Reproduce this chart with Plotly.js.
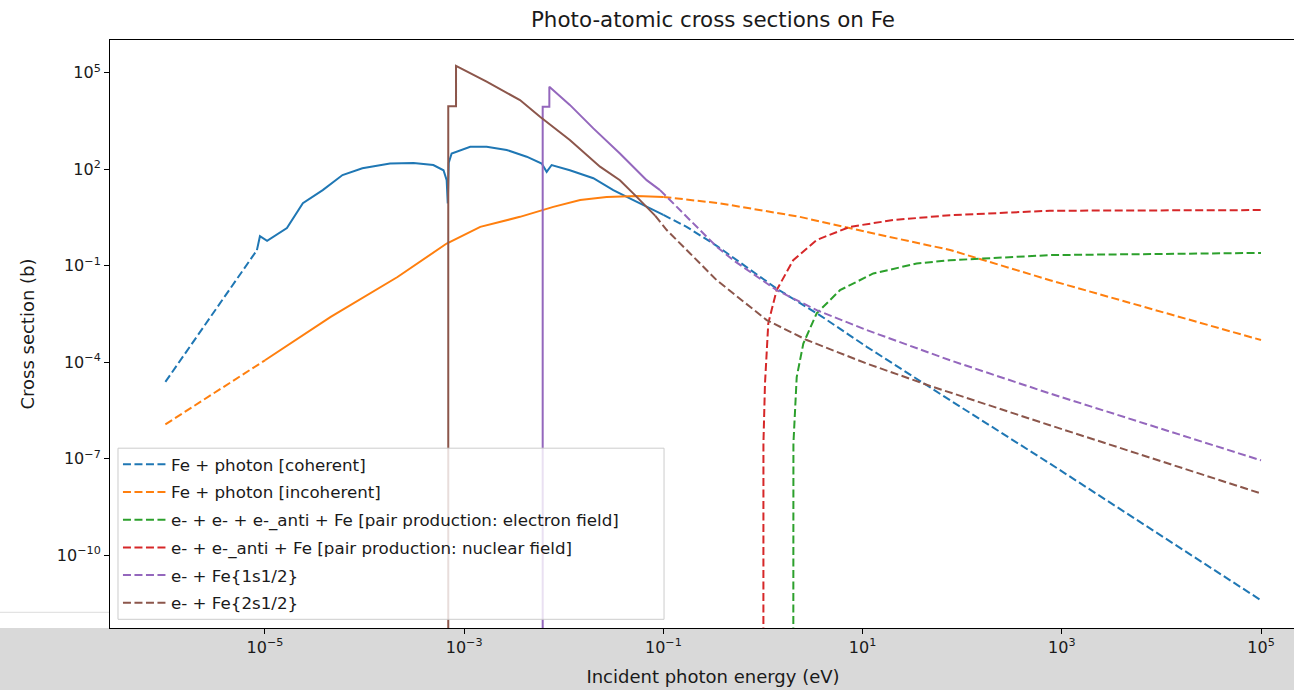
<!DOCTYPE html>
<html>
<head>
<meta charset="utf-8">
<script src="https://cdn.plot.ly/plotly-3.0.1.min.js"></script>
<style>
  html, body { margin: 0; padding: 0; overflow: hidden; background: #ffffff; }
  #chart { width: 1330px; height: 690px; }
</style>
</head>
<body>
<div id="chart"></div>
<script>
// ---------- Data (energy, cross section in b) ----------
// Fe + photon [coherent]
const cohLowE   = [1e-6, 8.3e-6];
const cohLowS   = [2.45e-5, 0.305];
const cohMidE   = [8.3e-6, 8.9e-6, 1.05e-5, 1.66e-5, 2.4e-5, 3.8e-5, 6.0e-5, 9.5e-5, 1.8e-4, 3.1e-4, 4.9e-4, 6.2e-4, 6.67e-4, 6.84e-4, 7.0e-4, 7.48e-4, 1.15e-3, 1.68e-3, 2.67e-3, 4.24e-3, 6.0e-3, 6.73e-3, 7.55e-3, 1.15e-2, 1.98e-2, 3.14e-2, 4.99e-2, 7.94e-2, 0.1];
const cohMidS   = [0.305, 0.83, 0.596, 1.48, 8.85, 22.4, 66, 107, 151, 155, 135, 93, 46, 8.7, 160, 309, 501, 501, 398, 245, 151, 83, 135, 93, 52.5, 22.4, 11.0, 5.37, 3.8];
const cohHighE  = [0.1, 0.171, 0.343, 1.37, 3.73, 11.0, 75.5, 759, 1e5];
const cohHighS  = [3.8, 1.62, 0.417, 0.0195, 2.88e-3, 3.02e-4, 6.6e-6, 7.08e-8, 3.98e-12];

// Fe + photon [incoherent]
const incLowE   = [1e-6, 1e-5];
const incLowS   = [1.17e-6, 1.15e-4];
const incMidE   = [1e-5, 4.57e-5, 2.14e-4, 6.67e-4, 1.45e-3, 3.63e-3, 7.85e-3, 1.46e-2, 2.69e-2, 5.37e-2, 0.1];
const incMidS   = [1.15e-4, 2.57e-3, 0.0447, 0.49, 1.62, 3.31, 6.76, 11.0, 13.8, 14.8, 13.8];
const incHighE  = [0.1, 0.372, 2.34, 11.0, 75.5, 759, 1e5];
const incHighS  = [13.8, 8.7, 3.31, 1.12, 0.309, 0.0355, 4.9e-4];

// e- + e- + e-_anti + Fe [pair production: electron field]
const ppeE = [2.01, 2.02, 2.18, 2.54, 3.46, 5.93, 12.8, 34.9, 75.5, 759, 1e5];
const ppeS = [1e-20, 2.95e-7, 3.47e-5, 3.8e-4, 3.31e-3, 0.0174, 0.0575, 0.117, 0.148, 0.214, 0.251];

// e- + e-_anti + Fe [pair production: nuclear field]
const ppnE = [1.008, 1.01, 1.047, 1.13, 1.37, 2.01, 3.46, 7.46, 20.3, 75.5, 759, 1e5];
const ppnS = [1e-20, 3.0e-7, 2.19e-5, 1.62e-3, 0.0174, 0.148, 0.631, 1.62, 2.63, 3.72, 5.13, 5.37];

// e- + Fe{1s1/2}
const k1MidE  = [6.14e-3, 6.14e-3, 7.16e-3, 7.16e-3, 1.15e-2, 1.98e-2, 3.66e-2, 6.79e-2, 9.25e-2];
const k1MidS  = [1e-20, 8710, 8710, 36300, 1.0e4, 1860, 309, 45.7, 22.4];
const k1HighE = [9.25e-2, 0.171, 0.343, 0.504, 1.37, 3.46, 11.0, 75.5, 759, 1e5];
const k1HighS = [22.4, 3.31, 0.389, 0.148, 0.0174, 4.17e-3, 1.0e-3, 1.15e-4, 1.07e-5, 8.9e-8];

// e- + Fe{2s1/2}
const l1MidE  = [6.92e-4, 6.92e-4, 8.28e-4, 8.28e-4, 1.68e-3, 3.63e-3, 5.77e-3, 1.15e-2, 2.31e-2, 3.66e-2, 5.4e-2, 8.3e-2];
const l1MidS  = [1e-20, 9120, 9120, 1.62e5, 5.25e4, 1.41e4, 4270, 813, 120, 45.7, 13.8, 3.55];
const l1HighE = [8.3e-2, 0.108, 0.343, 1.09, 2.75, 11.0, 51.3, 759, 1e5];
const l1HighS = [3.55, 1.29, 0.0355, 2.04e-3, 4.9e-4, 9.1e-5, 1.7e-5, 1.1e-6, 8.3e-9];

const seriesNames = [
  'Fe + photon [coherent]',
  'Fe + photon [incoherent]',
  'e- + e- + e-_anti + Fe [pair production: electron field]',
  'e- + e-_anti + Fe [pair production: nuclear field]',
  'e- + Fe{1s1/2}',
  'e- + Fe{2s1/2}'
];
const seriesColors = ['#1f77b4', '#ff7f0e', '#2ca02c', '#d62728', '#9467bd', '#8c564b'];

const xTickVals = [1e-5, 1e-3, 1e-1, 1e1, 1e3, 1e5];
const xTickText = ['10<sup>\u22125</sup>', '10<sup>\u22123</sup>', '10<sup>\u22121</sup>', '10<sup>1</sup>', '10<sup>3</sup>', '10<sup>5</sup>'];
const yTickVals = [1e-10, 1e-7, 1e-4, 1e-1, 1e2, 1e5];
const yTickText = ['10<sup>\u221210</sup>', '10<sup>\u22127</sup>', '10<sup>\u22124</sup>', '10<sup>\u22121</sup>', '10<sup>2</sup>', '10<sup>5</sup>'];

// ---------- Traces ----------
const DASH = '8px,3.5px';
const LW = 2;
function seg(i, xs, ys, dashed, show) {
  return {
    type: 'scatter', mode: 'lines', x: xs, y: ys,
    name: seriesNames[i], legendgroup: 'g' + i, showlegend: show,
    line: { color: seriesColors[i], width: LW, dash: dashed ? DASH : 'solid' },
    hoverinfo: 'skip'
  };
}
const traces = [
  seg(0, cohLowE, cohLowS, true, true),
  seg(0, cohMidE, cohMidS, false, false),
  seg(0, cohHighE, cohHighS, true, false),
  seg(1, incLowE, incLowS, true, true),
  seg(1, incMidE, incMidS, false, false),
  seg(1, incHighE, incHighS, true, false),
  seg(2, ppeE, ppeS, true, true),
  seg(3, ppnE, ppnS, true, true),
  seg(4, k1HighE, k1HighS, true, true),
  seg(4, k1MidE, k1MidS, false, false),
  seg(5, l1HighE, l1HighS, true, true),
  seg(5, l1MidE, l1MidS, false, false)
];

const FONT = 'DejaVu Sans, sans-serif';
const layout = {
  width: 1330, height: 690,
  margin: { l: 110, r: 14, t: 40, b: 62.3 },
  paper_bgcolor: '#ffffff', plot_bgcolor: '#ffffff',
  font: { family: FONT, size: 16, color: '#000000' },
  title: {
    text: 'Photo-atomic cross sections on Fe',
    font: { family: FONT, size: 21.4, color: '#1a1a1a' },
    xref: 'paper', x: 0.5, xanchor: 'center',
    yref: 'container', y: 1 - 20 / 690, yanchor: 'middle'
  },
  xaxis: {
    type: 'log', range: [-6.556, 5.552],
    showgrid: false, zeroline: false,
    showline: true, linecolor: '#000000', linewidth: 1, mirror: true,
    ticks: 'outside', ticklen: 5, tickwidth: 1, tickcolor: '#000000',
    tickvals: xTickVals, ticktext: xTickText,
    tickfont: { family: FONT, size: 16, color: '#1a1a1a' },
    title: { text: 'Incident photon energy (eV)', font: { family: FONT, size: 18, color: '#1a1a1a' }, standoff: 14 }
  },
  yaxis: {
    type: 'log', range: [-12.261, 6.017],
    showgrid: false, zeroline: false,
    showline: true, linecolor: '#000000', linewidth: 1, mirror: true,
    ticks: 'outside', ticklen: 5, tickwidth: 1, tickcolor: '#000000',
    tickvals: yTickVals, ticktext: yTickText,
    tickfont: { family: FONT, size: 16, color: '#1a1a1a' },
    title: { text: 'Cross section (b)', font: { family: FONT, size: 18, color: '#1a1a1a' }, standoff: 17 }
  },
  showlegend: true,
  legend: {
    x: 0.0066, y: 0.308, xanchor: 'left', yanchor: 'top',
    bgcolor: 'rgba(0,0,0,0)', borderwidth: 0,
    font: { family: FONT, size: 16.7, color: '#1a1a1a' },
    tracegroupgap: 3, itemwidth: 43
  },
  shapes: [
    { type: 'rect', xref: 'paper', yref: 'paper', x0: -0.2, x1: 1.2, y0: -0.2, y1: 0,
      fillcolor: '#d9d9d9', line: { width: 0 }, layer: 'below' },
    { type: 'line', xref: 'paper', yref: 'paper', x0: -0.0912, x1: 0, y0: 0.0267, y1: 0.0267,
      line: { color: '#dddddd', width: 1 }, layer: 'below' },
    { type: 'rect', xref: 'paper', yref: 'paper', x0: 0.00663, x1: 0.4594, y0: 0.0148, y1: 0.3058,
      fillcolor: 'rgba(255,255,255,0.8)', line: { color: '#cccccc', width: 1 }, layer: 'above' }
  ]
};

Plotly.newPlot('chart', traces, layout, { displayModeBar: false, staticPlot: true });
</script>
</body>
</html>
